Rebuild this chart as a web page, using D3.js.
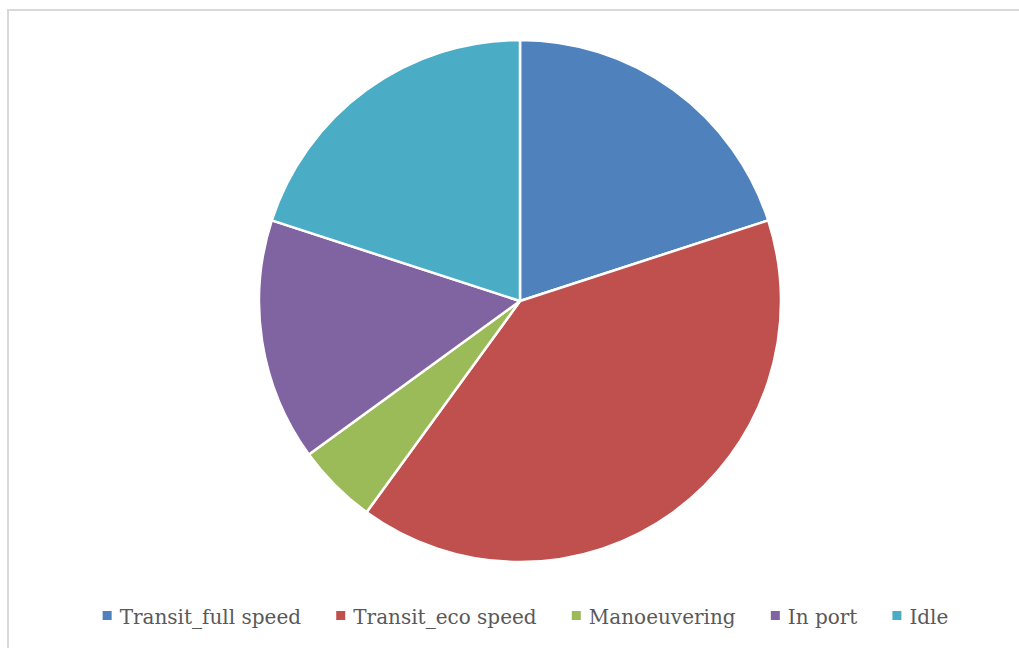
<!DOCTYPE html>
<html>
<head>
<meta charset="utf-8">
<script src="https://cdn.jsdelivr.net/npm/d3@7"></script>
<style>
  body { margin: 0; background: #fff; }
  svg { display: block; }
</style>
</head>
<body>
<div id="chart"></div>
<script>
// Data
var categories = ['Transit_full speed', 'Transit_eco speed', 'Manoeuvering', 'In port', 'Idle'];
var values = [20, 40, 5, 15, 20];
var colors = ['#4F81BD', '#C0504D', '#9BBB59', '#8064A2', '#4BACC6'];

var width = 1019,
    height = 648,
    cx = 520,
    cy = 301,
    radius = 261;

var svg = d3.select('#chart').append('svg')
    .attr('width', width)
    .attr('height', height);

// chart frame
svg.append('rect')
    .attr('x', 8)
    .attr('y', 10)
    .attr('width', width + 10)
    .attr('height', height + 10)
    .attr('fill', 'none')
    .attr('stroke', '#d9d9d9')
    .attr('stroke-width', 2);

var data = categories.map(function(c, i) { return {name: c, value: values[i], color: colors[i]}; });

var pie = d3.pie().sort(null).value(function(d) { return d.value; });
var arc = d3.arc().innerRadius(0).outerRadius(radius);

var pieG = svg.append('g')
    .attr('transform', 'translate(' + cx + ',' + cy + ')');

pieG.selectAll('path')
    .data(pie(data))
    .enter().append('path')
    .attr('d', arc)
    .attr('fill', function(d) { return d.data.color; })
    .attr('stroke', '#fff')
    .attr('stroke-width', 2.5)
    .attr('stroke-linejoin', 'round');

// Legend
var legend = svg.append('g').attr('class', 'legend');
var items = legend.selectAll('g')
    .data(data)
    .enter().append('g');

items.append('rect')
    .attr('width', 9)
    .attr('height', 9)
    .attr('y', -13)
    .attr('fill', function(d) { return d.color; });

items.append('text')
    .attr('x', 17)
    .attr('font-family', '"DejaVu Serif", serif')
    .attr('font-size', 20)
    .attr('fill', '#595959')
    .text(function(d) { return d.name; });

// lay out items in a row
var gap = 35, xPos = 0, offsets = [];
items.each(function() {
    offsets.push(xPos);
    xPos += this.getBBox().width + gap;
});
var total = xPos - gap;
var startX = 525.5 - total / 2;
items.attr('transform', function(d, i) { return 'translate(' + (startX + offsets[i]) + ',624)'; });
</script>
</body>
</html>
